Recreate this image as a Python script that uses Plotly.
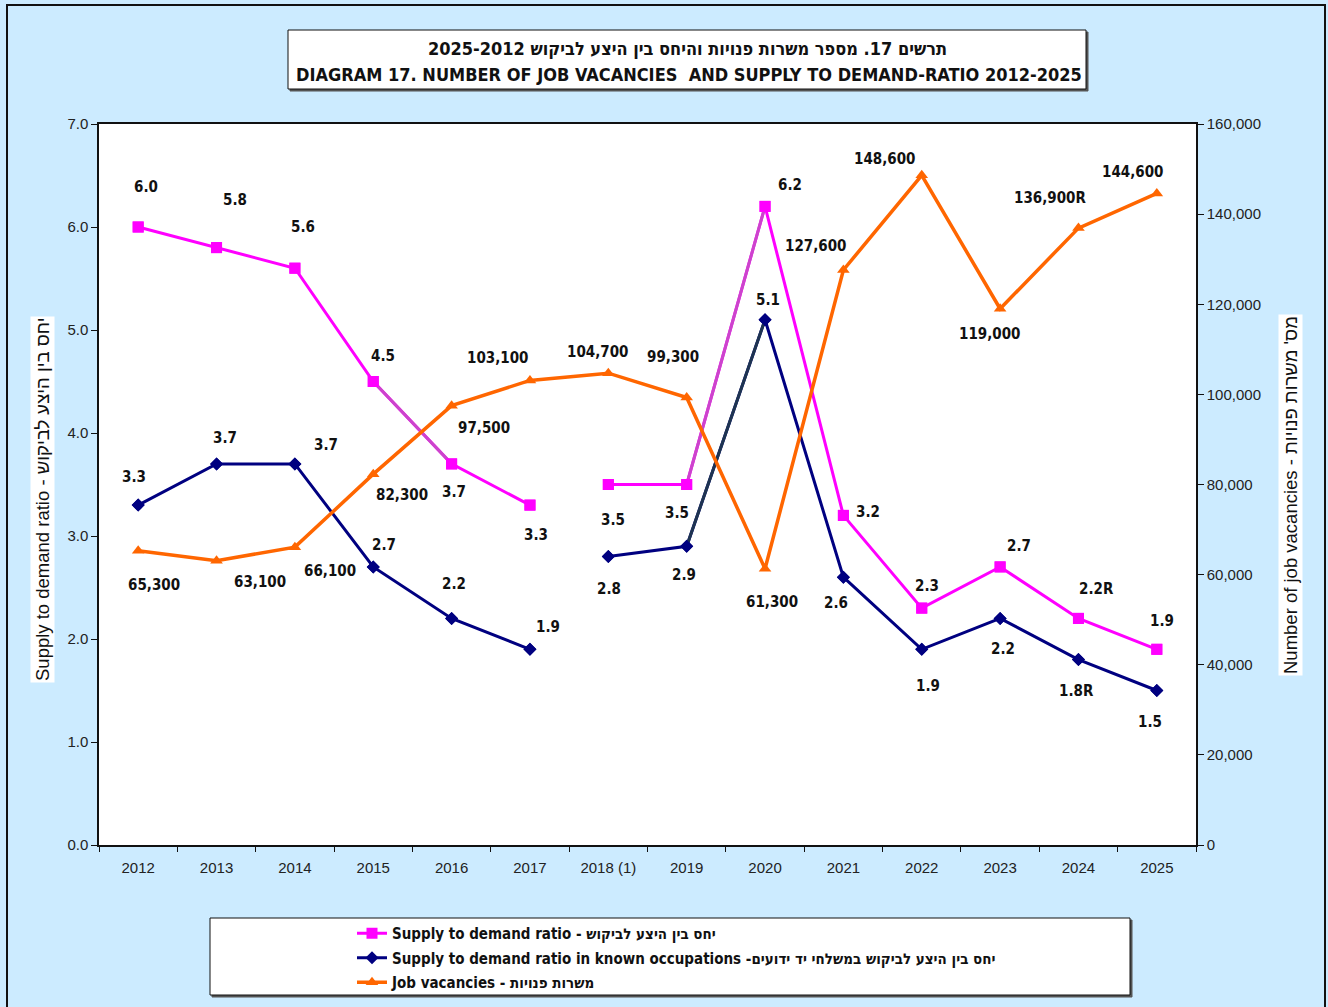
import plotly.graph_objects as go

# ---------------- data ----------------
years = ["2012", "2013", "2014", "2015", "2016", "2017", "2018 (1)",
         "2019", "2020", "2021", "2022", "2023", "2024", "2025"]
supply_ratio = [6.0, 5.8, 5.6, 4.5, 3.7, 3.3, 3.5, 3.5, 6.2, 3.2, 2.3, 2.7, 2.2, 1.9]
known_ratio = [3.3, 3.7, 3.7, 2.7, 2.2, 1.9, 2.8, 2.9, 5.1, 2.6, 1.9, 2.2, 1.8, 1.5]
vacancies = [65300, 63100, 66100, 82300, 97500, 103100, 104700,
             99300, 61300, 127600, 148600, 119000, 136900, 144600]
revised = ["", "", "", "", "", "", "", "", "", "", "", "", "R", ""]

supply_labels = [f"{v:.1f}{r}" for v, r in zip(supply_ratio, revised)]
known_labels = [f"{v:.1f}{r}" for v, r in zip(known_ratio, revised)]
vac_labels = [f"{v:,}{r}" for v, r in zip(vacancies, revised)]

left_ticks = [0, 1, 2, 3, 4, 5, 6, 7]
right_ticks = [0, 20000, 40000, 60000, 80000, 100000, 120000, 140000, 160000]

title_he = "תרשים 17. מספר משרות פנויות והיחס בין היצע לביקוש 2025-2012"
title_en = "DIAGRAM 17. NUMBER OF JOB VACANCIES  AND SUPPLY TO DEMAND-RATIO 2012-2025"
name_supply = "Supply to demand ratio - יחס בין היצע לביקוש"
name_known = "Supply to demand ratio in known occupations -יחס בין היצע לביקוש במשלחי יד ידועים"
name_vac = "Job vacancies - משרות פנויות"
ytitle_left = "Supply to demand ratio - יחס בין היצע לביקוש"
ytitle_right = "Number of job vacancies - מס' משרות פנויות"

# label offsets (pixels): (dx, dy up)
supply_off = [(8, 40), (18, 48), (8, 41), (10, 26), (2, -28), (6, -30), (5, -35),
              (-10, -28), (25, 21), (25, 3), (5, 22), (19, 21), (18, 29), (5, 28)]
known_off = [(-4, 28), (8, 26), (31, 19), (11, 22), (2, 34), (18, 22), (1, -32),
             (-3, -29), (3, 20), (-7, -26), (6, -37), (3, -31), (-2, -31), (-7, -31)]
vac_off = [(16, -34), (43, -21), (35, -24), (29, -21), (32, -22), (-32, 22), (-11, 21),
           (-14, 41), (7, -33), (-28, 24), (-37, 16), (-11, -25), (-28, 30), (-24, 21)]

PINK = "#FF00FF"
NAVY = "#000080"
ORANGE = "#FF6600"
PURPLE = "#CC44CC"
SLATE = "#1E3450"
BG = "#CCEBFF"
LBL_FONT = "Liberation Sans Narrow, Arial Narrow, DejaVu Sans Condensed, Arial, sans-serif"
TICK_FONT = "Liberation Sans, Arial, sans-serif"

fig = go.Figure()
idx = list(range(len(years)))
segments = [(0, 6), (6, 14)]

# vacancies (right axis)
fig.add_trace(go.Scatter(
    x=idx, y=vacancies, yaxis="y2", mode="lines+markers", name=name_vac,
    line=dict(color=ORANGE, width=3.5),
    marker=dict(symbol="triangle-up", size=11, color=ORANGE),
    legendgroup="vac", legendrank=3))

# known occupations
for k, (a, b) in enumerate(segments):
    fig.add_trace(go.Scatter(
        x=idx[a:b], y=known_ratio[a:b], mode="lines+markers", name=name_known,
        line=dict(color=NAVY, width=3),
        marker=dict(symbol="diamond", size=10, color=NAVY),
        showlegend=(k == 0), legendgroup="known", legendrank=2))
for a in (7,):
    fig.add_trace(go.Scatter(
        x=idx[a:a + 2], y=known_ratio[a:a + 2], mode="lines",
        line=dict(color=SLATE, width=3), showlegend=False, hoverinfo="skip"))

# supply ratio
for k, (a, b) in enumerate(segments):
    fig.add_trace(go.Scatter(
        x=idx[a:b], y=supply_ratio[a:b], mode="lines+markers", name=name_supply,
        line=dict(color=PINK, width=3),
        marker=dict(symbol="square", size=11, color=PINK),
        showlegend=(k == 0), legendgroup="supply", legendrank=1))
for a in (3, 7):
    fig.add_trace(go.Scatter(
        x=idx[a:a + 2], y=supply_ratio[a:a + 2], mode="lines",
        line=dict(color=PURPLE, width=3), showlegend=False, hoverinfo="skip"))
# redraw markers on top
fig.add_trace(go.Scatter(x=idx, y=supply_ratio, mode="markers",
                         marker=dict(symbol="square", size=11, color=PINK),
                         showlegend=False, hoverinfo="skip"))
fig.add_trace(go.Scatter(x=idx, y=known_ratio, mode="markers",
                         marker=dict(symbol="diamond", size=10, color=NAVY),
                         showlegend=False, hoverinfo="skip"))

ann = []
def add_labels(vals, texts, offs, yref):
    for i, v, t, (dx, dy) in zip(idx, vals, texts, offs):
        ann.append(dict(x=i, y=v, xref="x", yref=yref, text=t, showarrow=False,
                        xanchor="center", yanchor="middle",
                        xshift=dx, yshift=dy,
                        font=dict(family=LBL_FONT, size=15, color="#111111", weight="bold")))

add_labels(supply_ratio, supply_labels, supply_off, "y")
add_labels(known_ratio, known_labels, known_off, "y")
add_labels(vacancies, vac_labels, vac_off, "y2")

# plot-area geometry helpers (pixels -> paper)
L, R, T, B = 99, 1196, 124, 845
def px(x):
    return (x - L) / (R - L)
def py(y):
    return (B - y) / (B - T)

# titles
ann.append(dict(x=px(687), y=py(48), xref="paper", yref="paper", text=title_he,
                xanchor="center", yanchor="middle",
                showarrow=False, font=dict(family=LBL_FONT, size=18, color="#111", weight="bold")))
ann.append(dict(x=px(689), y=py(74), xref="paper", yref="paper", text=title_en,
                xanchor="center", yanchor="middle",
                showarrow=False, font=dict(family=LBL_FONT, size=18, color="#111", weight="bold")))
# axis titles
ann.append(dict(x=px(42), y=py(500), xref="paper", yref="paper", text=ytitle_left,
                xanchor="center", yanchor="middle",
                textangle=-90, showarrow=False, bgcolor="white",
                font=dict(family=TICK_FONT, size=18.5, color="#111")))
ann.append(dict(x=px(1290), y=py(495), xref="paper", yref="paper", text=ytitle_right,
                xanchor="center", yanchor="middle",
                textangle=-90, showarrow=False, bgcolor="white",
                font=dict(family=TICK_FONT, size=18.5, color="#111")))

shapes = [
    # outer frame
    dict(type="rect", xref="paper", yref="paper", x0=px(7), x1=px(1325), y0=py(1015), y1=py(5),
         line=dict(color="#111", width=2), layer="below"),
    # title box shadow + box
    dict(type="rect", xref="paper", yref="paper", x0=px(290), x1=px(1088), y0=py(91), y1=py(32),
         line=dict(color="#555", width=1), fillcolor="#555", layer="below"),
    dict(type="rect", xref="paper", yref="paper", x0=px(288), x1=px(1086), y0=py(89), y1=py(30),
         line=dict(color="#111", width=1), fillcolor="white", layer="below"),
    # legend box shadow + box
    dict(type="rect", xref="paper", yref="paper", x0=px(212), x1=px(1132), y0=py(997), y1=py(920),
         line=dict(color="#555", width=1), fillcolor="#555", layer="below"),
    dict(type="rect", xref="paper", yref="paper", x0=px(210), x1=px(1130), y0=py(995), y1=py(918),
         line=dict(color="#111", width=1), fillcolor="white", layer="below"),
]

fig.update_layout(
    width=1328, height=1007,
    margin=dict(l=L, r=1328 - R, t=T, b=1007 - B, autoexpand=False),
    paper_bgcolor=BG, plot_bgcolor="white",
    showlegend=True,
    legend=dict(x=px(352), y=py(917), xanchor="left", yanchor="top",
                bgcolor="rgba(0,0,0,0)", borderwidth=0,
                font=dict(family=LBL_FONT, size=15, color="#111", weight="bold"),
                tracegroupgap=2, itemwidth=30, traceorder="grouped"),
    annotations=ann, shapes=shapes,
    xaxis=dict(type="linear", range=[-0.5, len(years) - 0.5],
               tickvals=idx, ticktext=years,
               showline=True, linecolor="#111", linewidth=1.5, mirror=True,
               ticks="outside", ticklen=0, ticklabelstandoff=8,
               showgrid=False, zeroline=False,
               tickfont=dict(family=TICK_FONT, size=15, color="#222")),
    xaxis2=dict(overlaying="x", range=[-0.5, len(years) - 0.5],
                tickvals=[i - 0.5 for i in idx] + [len(years) - 0.5],
                showticklabels=False, ticks="outside", ticklen=6, tickcolor="#111",
                showgrid=False, zeroline=False, side="bottom", showline=False),
    yaxis=dict(range=[0, 7], tickvals=left_ticks, tickformat=".1f",
               showline=True, linecolor="#111", linewidth=1.5, mirror=False,
               ticks="outside", ticklen=6, tickcolor="#111",
               showgrid=False, zeroline=False,
               tickfont=dict(family=TICK_FONT, size=15, color="#222")),
    yaxis2=dict(range=[0, 160000], tickvals=right_ticks, tickformat=",d",
                overlaying="y", side="right",
                showline=True, linecolor="#111", linewidth=1.5,
                ticks="outside", ticklen=6, tickcolor="#111",
                showgrid=False, zeroline=False,
                tickfont=dict(family=TICK_FONT, size=15, color="#222")),
    hovermode=False,
)
# invisible trace to activate the boundary-tick axis
fig.add_trace(go.Scatter(x=[None], y=[None], xaxis="x2", showlegend=False, hoverinfo="skip"))

fig.write_html("out.html", config={"displayModeBar": False},
               post_script="document.body.style.margin='0px';")
